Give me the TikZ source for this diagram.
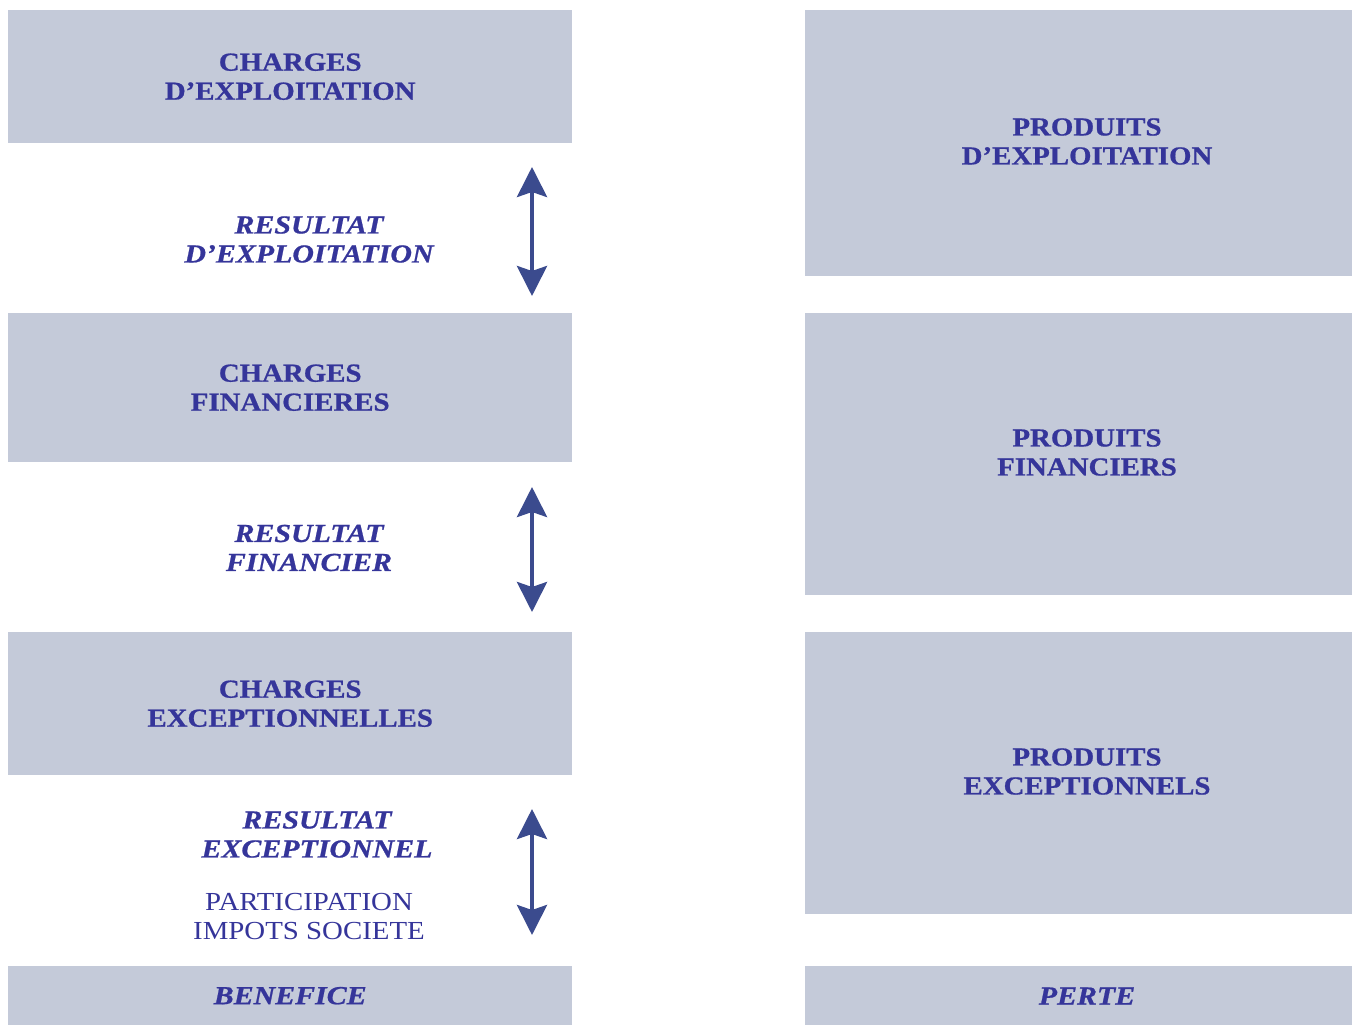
\documentclass[tikz,border=0pt]{standalone}
\usepackage{fontspec}
\setmainfont{Liberation Serif}[FakeStretch=1.11, BoldFeatures={FakeStretch=1.11,FakeBold=0.8}, BoldItalicFeatures={FakeStretch=1.15,FakeBold=0.8}]
\usetikzlibrary{arrows.meta}
\definecolor{boxfill}{HTML}{C4CAD9}
\definecolor{txtblue}{HTML}{35359A}
\definecolor{arrblue}{HTML}{3B4B8E}
\tikzset{
  box/.style={fill=boxfill, draw=none, anchor=north west, inner sep=0pt, align=center,
    text=txtblue, font=\fontsize{26}{29}\selectfont\bfseries},
  boxtext/.style={text=txtblue, align=center, inner sep=0pt,
    font=\fontsize{26}{29}\selectfont\bfseries},
  reslabel/.style={text=txtblue, align=center, inner sep=0pt,
    font=\fontsize{26}{29}\selectfont\bfseries\itshape},
  plainlabel/.style={text=txtblue, align=center, inner sep=0pt,
    font=\fontsize{26}{29}\selectfont},
  dblarrow/.style={draw=arrblue, line width=4pt,
    {Stealth[length=30pt,width=30pt,inset=5pt]}-{Stealth[length=30pt,width=30pt,inset=5pt]}}
}
\begin{document}
\begin{tikzpicture}[x=1pt,y=-1pt]
\useasboundingbox (0,0) rectangle (1352,1025);
% left column
\node[box, minimum width=564pt, minimum height=133pt] (ce) at (8,10) {CHARGES\\D’EXPLOITATION};
\node[box, minimum width=564pt, minimum height=149pt] (cf) at (8,313) {CHARGES\\FINANCIERES};
\node[box, minimum width=564pt, minimum height=143pt] (cx) at (8,632) {CHARGES\\EXCEPTIONNELLES};
\node[box, minimum width=564pt, minimum height=59pt, font=\fontsize{26}{29}\selectfont\bfseries\itshape] (ben) at (8,966) {BENEFICE};
% right column
\node[box, minimum width=547pt, minimum height=266pt] (pe) at (805,10) {};
\node[box, minimum width=547pt, minimum height=282pt] (pf) at (805,313) {};
\node[box, minimum width=547pt, minimum height=282pt] (px) at (805,632) {};
\node[box, minimum width=547pt, minimum height=59pt] (per) at (805,966) {};
\node[boxtext] (pet) at (1087,141.5) {PRODUITS\\D’EXPLOITATION};
\node[boxtext] (pft) at (1087,452.5) {PRODUITS\\FINANCIERS};
\node[boxtext] (pxt) at (1087,771.5) {PRODUITS\\EXCEPTIONNELS};
\node[reslabel] (pert) at (1087,996) {PERTE};
% result labels
\node[reslabel] (re) at (309,239.5) {RESULTAT\\D’EXPLOITATION};
\node[reslabel] (rf) at (309,548) {RESULTAT\\FINANCIER};
\node[reslabel] (rx) at (317,834.5) {RESULTAT\\EXCEPTIONNEL};
\node[plainlabel] (pis) at (309,916.5) {PARTICIPATION\\IMPOTS SOCIETE};
% arrows
\coordinate (a1t) at (532,167);
\coordinate (a1b) at (532,296);
\coordinate (a2t) at (532,487);
\coordinate (a2b) at (532,612);
\coordinate (a3t) at (532,809);
\coordinate (a3b) at (532,935);
\draw[dblarrow] (a1t) -- (a1b);
\draw[dblarrow] (a2t) -- (a2b);
\draw[dblarrow] (a3t) -- (a3b);
\end{tikzpicture}
\end{document}
